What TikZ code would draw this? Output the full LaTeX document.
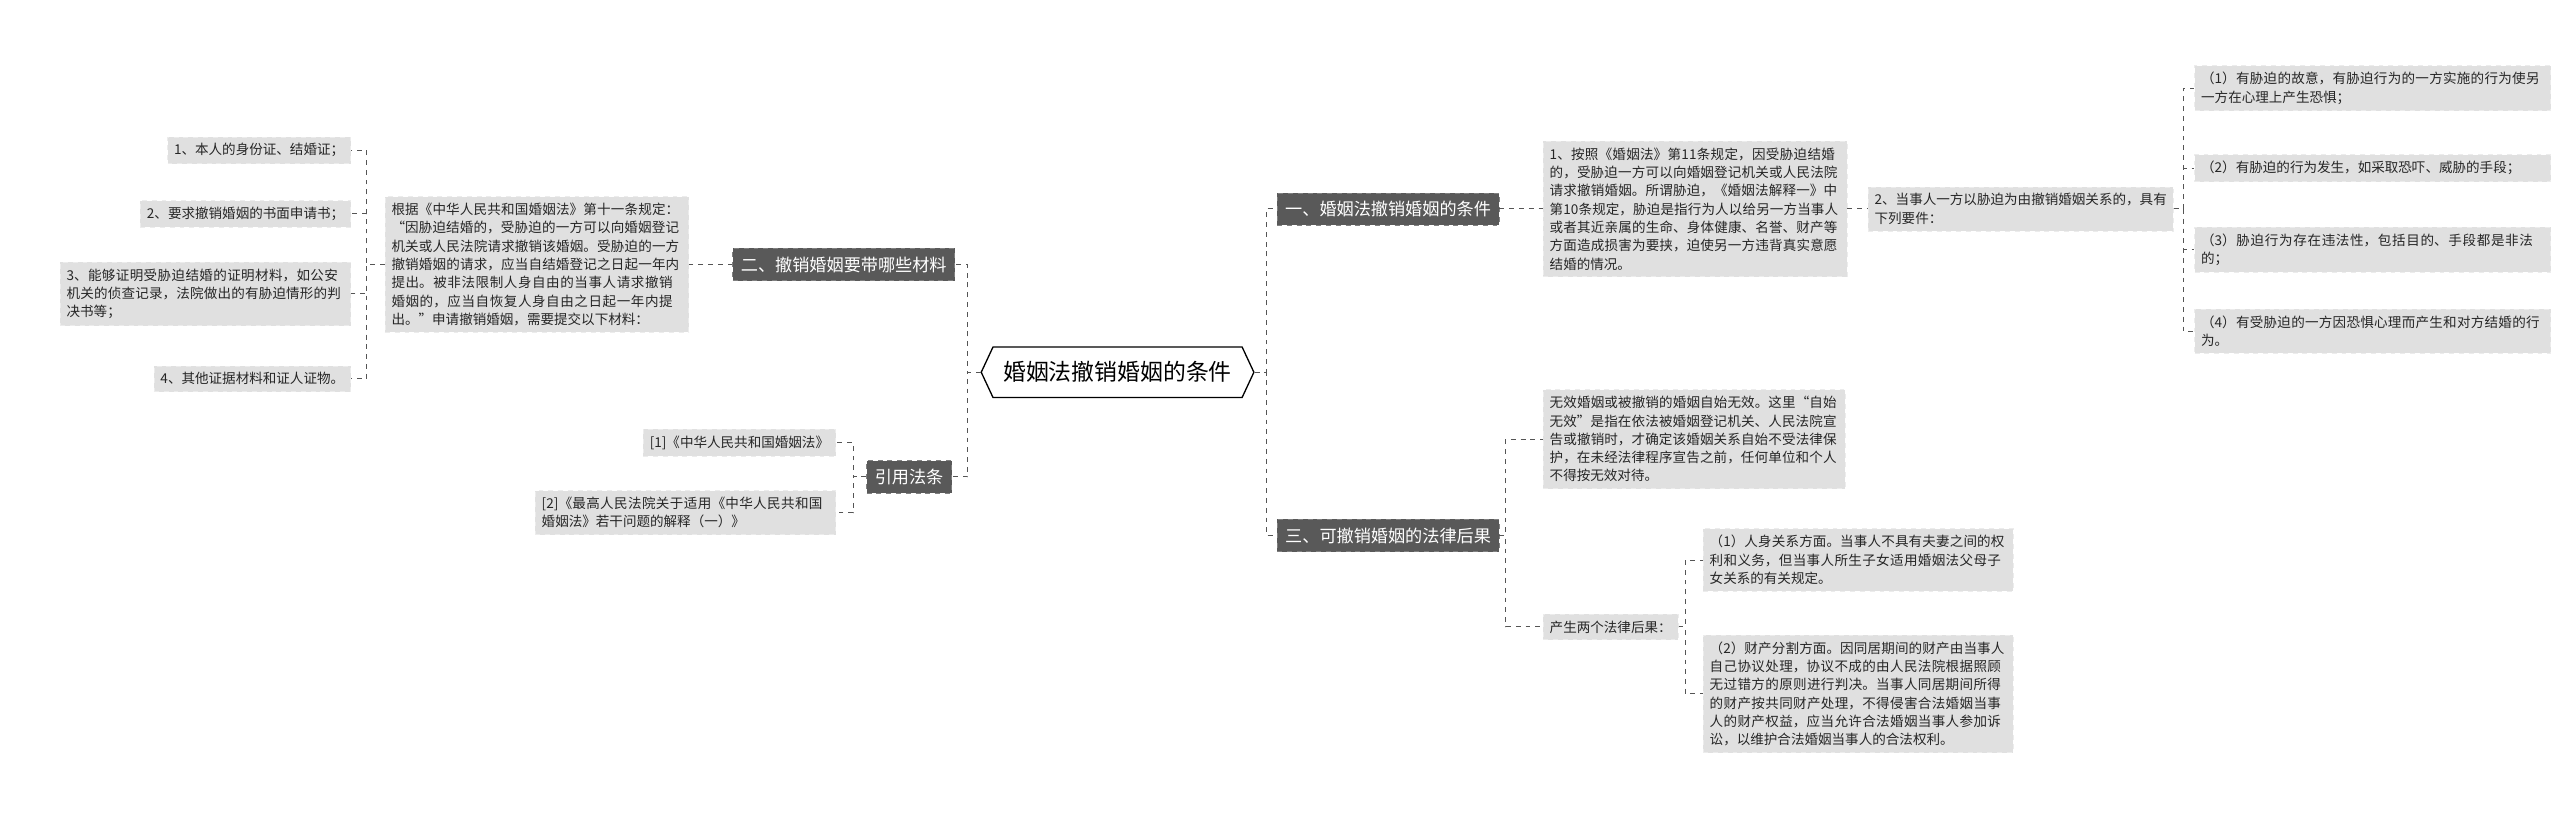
\documentclass[tikz,border=0pt]{standalone}
\usepackage{fontspec}
\setmainfont{Noto Sans CJK SC}
\XeTeXlinebreaklocale "zh"
\XeTeXlinebreakskip=0pt plus 1pt
\usetikzlibrary{shapes.symbols}
\definecolor{leafgray}{HTML}{E0E0E0}
\definecolor{darkbox}{HTML}{595959}
\definecolor{lineclr}{HTML}{555555}
\begin{document}
\begin{tikzpicture}[x=1pt,y=-1pt,
  leaf/.style={fill=leafgray,draw=white!85!gray,dashed,inner sep=4pt,align=left,font=\fontsize{8.3}{11.2}\selectfont,text=black!85},
  dark/.style={fill=darkbox,draw=gray,dashed,inner sep=5pt,text=white,font=\fontsize{10.5}{13}\selectfont},
  conn/.style={draw=lineclr,dashed,line width=0.6pt}]
\useasboundingbox (0,0) rectangle (1568,508);
\fill[white] (0,0) rectangle (1568,508);
% center
\node[draw=black,line width=0.8pt,fill=white,signal,signal to=east and west,signal pointer angle=130,minimum width=167pt,minimum height=31pt,inner sep=2pt,font=\fontsize{14}{16}\selectfont] (c) at (684.5,228) {婚姻法撤销婚姻的条件};
% left branches
\node[dark,anchor=east] (b2) at (585,162) {二、撤销婚姻要带哪些材料};
\node[dark,anchor=east] (b4) at (583,292) {引用法条};
\node[leaf,anchor=east,text width=178pt] (law) at (422,162) {根据《中华人民共和国婚姻法》第十一条规定：“因胁迫结婚的，受胁迫的一方可以向婚姻登记机关或人民法院请求撤销该婚姻。受胁迫的一方撤销婚姻的请求，应当自结婚登记之日起一年内提出。被非法限制人身自由的当事人请求撤销婚姻的，应当自恢复人身自由之日起一年内提出。”申请撤销婚姻，需要提交以下材料：};
\node[leaf,anchor=east] (m1) at (215,92) {1、本人的身份证、结婚证；};
\node[leaf,anchor=east] (m2) at (215,131) {2、要求撤销婚姻的书面申请书；};
\node[leaf,anchor=east,text width=170pt] (m3) at (215,180) {3、能够证明受胁迫结婚的证明材料，如公安机关的侦查记录，法院做出的有胁迫情形的判决书等；};
\node[leaf,anchor=east] (m4) at (215,232) {4、其他证据材料和证人证物。};
\node[leaf,anchor=east] (r1) at (512,271) {[1]《中华人民共和国婚姻法》};
\node[leaf,anchor=east,text width=176pt] (r2) at (512,314) {[2]《最高人民法院关于适用《中华人民共和国婚姻法》若干问题的解释（一）》};
% right branches
\node[dark,anchor=west] (b1) at (782,128) {一、婚姻法撤销婚姻的条件};
\node[dark,anchor=west] (b3) at (782,328) {三、可撤销婚姻的法律后果};
\node[leaf,anchor=west,text width=178pt] (t1) at (945,128) {1、按照《婚姻法》第11条规定，因受胁迫结婚的，受胁迫一方可以向婚姻登记机关或人民法院请求撤销婚姻。所谓胁迫，《婚姻法解释一》中第10条规定，胁迫是指行为人以给另一方当事人或者其近亲属的生命、身体健康、名誉、财产等方面造成损害为要挟，迫使另一方违背真实意愿结婚的情况。};
\node[leaf,anchor=west,text width=179pt] (t2) at (1144,128) {2、当事人一方以胁迫为由撤销婚姻关系的，具有下列要件：};
\node[leaf,anchor=west,text width=210pt] (s1) at (1344,54) {（1）有胁迫的故意，有胁迫行为的一方实施的行为使另一方在心理上产生恐惧；};
\node[leaf,anchor=west,text width=210pt] (s2) at (1344,103) {（2）有胁迫的行为发生，如采取恐吓、威胁的手段；};
\node[leaf,anchor=west,text width=210pt] (s3) at (1344,153) {（3）胁迫行为存在违法性，包括目的、手段都是非法的；};
\node[leaf,anchor=west,text width=210pt] (s4) at (1344,203) {（4）有受胁迫的一方因恐惧心理而产生和对方结婚的行为。};
\node[leaf,anchor=west,text width=177pt] (u1) at (945,269) {无效婚姻或被撤销的婚姻自始无效。这里“自始无效”是指在依法被婚姻登记机关、人民法院宣告或撤销时，才确定该婚姻关系自始不受法律保护，在未经法律程序宣告之前，任何单位和个人不得按无效对待。};
\node[leaf,anchor=west] (u2) at (945,384) {产生两个法律后果：};
\node[leaf,anchor=west,text width=182pt] (v1) at (1043,343) {（1）人身关系方面。当事人不具有夫妻之间的权利和义务，但当事人所生子女适用婚姻法父母子女关系的有关规定。};
\node[leaf,anchor=west,text width=182pt] (v2) at (1043,425) {（2）财产分割方面。因同居期间的财产由当事人自己协议处理，协议不成的由人民法院根据照顾无过错方的原则进行判决。当事人同居期间所得的财产按共同财产处理，不得侵害合法婚姻当事人的财产权益，应当允许合法婚姻当事人参加诉讼，以维护合法婚姻当事人的合法权利。};
% connectors
\foreach \n in {b2,b4} \draw[conn] (c.west) -- ++(-8,0) |- (\n.east);
\foreach \n in {b1,b3} \draw[conn] (c.east) -- ++(7,0) |- (\n.west);
\draw[conn] (b2.west) -- (law.east);
\foreach \n in {m1,m2,m3,m4} \draw[conn] (law.west) -- ++(-11,0) |- (\n.east);
\foreach \n in {r1,r2} \draw[conn] (b4.west) -- ++(-8,0) |- (\n.east);
\draw[conn] (b1.east) -- (t1.west);
\draw[conn] (t1.east) -- (t2.west);
\foreach \n in {s1,s2,s3,s4} \draw[conn] (t2.east) -- ++(6,0) |- (\n.west);
\foreach \n in {u1,u2} \draw[conn] (b3.east) -- ++(4,0) |- (\n.west);
\foreach \n in {v1,v2} \draw[conn] (u2.east) -- ++(4,0) |- (\n.west);
\end{tikzpicture}
\end{document}
